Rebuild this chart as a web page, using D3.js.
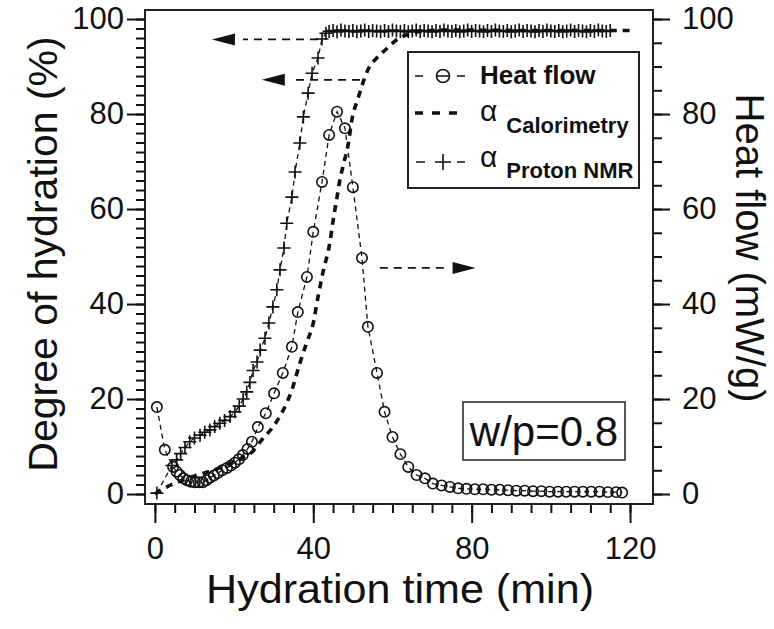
<!DOCTYPE html>
<html><head><meta charset="utf-8">
<script src="https://cdn.jsdelivr.net/npm/d3@7"></script>
<style>
body{margin:0;background:#fff}
svg{display:block}
text{font-family:"Liberation Sans",Arial,Helvetica,sans-serif;fill:#111}
</style>
</head><body>
<svg id="chart" width="774" height="629"></svg>
<script>
// ---------- data ----------
const xTickValues = [0, 40, 80, 120];
const yTickValues = [0, 20, 40, 60, 80, 100];

const heatTime = [0.5,2.5,4.6,5.5,6.3,7.2,8.1,9.1,10.1,11.1,12.1,13.0,13.9,14.9,15.9,17.0,18.2,19.2,20.2,21.2,22.2,23.4,24.5,26.0,28.0,30.1,32.3,34.6,36.1,38.4,40.0,42.2,44.0,46.0,48.0,50.0,52.3,53.8,56.1,58.0,60.0,62.0,64.0,66.1,68.2,70.2,72.4,74.5,76.6,78.7,80.8,82.9,85.0,87.1,89.2,91.3,93.4,95.5,97.6,99.7,101.8,103.9,106.0,108.1,110.2,112.3,114.4,116.5,118.0];
const heatFlow = [18.3,9.3,5.7,4.7,4.0,3.3,2.9,2.6,2.5,2.5,2.5,2.9,3.4,3.9,4.4,5.0,5.5,6.0,6.6,7.3,8.2,9.5,11.0,14.1,17.0,21.2,25.5,31.0,38.3,45.7,55.2,65.7,75.6,80.5,77.0,64.6,49.7,35.2,25.5,17.3,12.0,8.4,5.7,4.0,3.3,2.2,1.8,1.5,1.2,1.1,1.0,1.0,0.9,0.9,0.8,0.7,0.7,0.6,0.6,0.5,0.5,0.5,0.5,0.5,0.5,0.5,0.4,0.4,0.3];

const calTime = [0,2,4,6,8,10,12,14,16,18,20,22,24.5,27,29.6,32,34.6,36.6,38.3,40,41.2,42.4,44.2,45,46,46.7,47.8,48.8,49.8,51.3,52.6,53.8,56,58.6,61,64,68,75,90,110,121];
const calAlpha = [0,1.0,1.9,2.6,3.2,3.8,4.3,4.8,5.4,6.0,6.7,7.6,8.8,11.4,13.9,17.0,21.9,27.5,31.8,36.0,41.5,46.5,53.0,57.5,62.5,66.0,70.0,73.5,79.0,83.3,86.7,89.3,91.8,93.8,95.6,96.8,97.5,97.7,97.6,97.6,97.6];

const nmrTime = [0.5,4.3,5.5,6.5,7.6,8.8,10.0,11.4,12.6,13.9,15.1,16.4,17.6,19.0,20.2,21.3,22.3,23.2,24.0,24.8,25.8,26.6,27.8,28.8,29.8,30.8,31.6,32.6,33.3,34.6,35.4,36.6,37.5,38.7,39.7,41.2,42.2,43.2,
44,45,46,47,48,49,50,51,52,53,54,55,56,57,58,59,60,61,62,63,64,65,66,67,68,69,70,71,72,73,74,75,76,77,78,79,80,81,82,83,84,85,86,87,88,89,90,91,92,93,94,95,96,97,98,99,100,101,102,103,104,105,106,107,108,109,110,111,112,113,114,115,116,117,118,119,120,121,122,123];
const nmrAlpha = [0.2,6.0,7.2,8.5,9.8,11.0,11.8,12.4,13.0,13.5,14.2,14.9,15.5,16.3,17.3,18.5,20.0,21.5,23.5,26.0,27.8,30.3,32.8,36.0,39.4,43.0,47.2,51.8,57.0,62.5,67.8,73.9,79.4,84.4,88.6,91.8,95.8,97.0,
97.4,97.6,97.3,97.7,97.5,97.4,97.6,97.3,97.5,97.7,97.4,97.6,97.5,97.3,97.6,97.4,97.7,97.5,97.4,97.6,97.3,97.5,97.7,97.4,97.6,97.5,97.3,97.6,97.4,97.7,97.5,97.4,97.6,97.3,97.5,97.7,97.4,97.6,97.5,97.3,97.6,97.4,97.7,97.5,97.4,97.6,97.3,97.5,97.7,97.4,97.6,97.5,97.3,97.6,97.4,97.7,97.5,97.4,97.6,97.3,97.5,97.7,97.4,97.6,97.5,97.3,97.6,97.4,97.7,97.5,97.4,97.6];

// annotation arrows (data units): level, start, tip
const arrowLevel = [95.7, 87.2, 47.6];
const arrowStart = [41.2, 51.8, 56.8];
const arrowTip   = [14.4, 27.0, 81.0];

const legendLabels = ["Heat flow", "Calorimetry", "Proton NMR"];
const boxLabel = "w/p=0.8";

// ---------- layout ----------
const svg = d3.select("#chart");
const L = 145, R = 653, T = 10, B = 504;
const x = d3.scaleLinear().domain([-2.5, 125.8]).range([L, R]);
const yL = d3.scaleLinear().domain([-2.1, 101.9]).range([B, T]);
const yR = d3.scaleLinear().domain([-2.1, 101.9]).range([B, T]);
const ink = "#111";

// frame
svg.append("rect").attr("x", L).attr("y", T).attr("width", R - L).attr("height", B - T)
  .attr("fill", "none").attr("stroke", "#222").attr("stroke-width", 2);

function styleAxis(g, fs) {
  g.select(".domain").remove();
  g.selectAll("line").attr("stroke", ink).attr("stroke-width", 2);
  g.selectAll("text").attr("font-size", fs).attr("fill", ink)
    .style("font-family", '"Liberation Sans",Arial,sans-serif');
}

// bottom axis
const xMinor = d3.range(0, 121, 5);
svg.append("g").attr("transform", `translate(0,${B})`)
  .call(d3.axisBottom(x).tickValues(xMinor).tickSize(9).tickFormat(""))
  .call(g => styleAxis(g, 0));
svg.append("g").attr("transform", `translate(0,${B})`)
  .call(d3.axisBottom(x).tickValues(xTickValues).tickSize(19).tickPadding(14).tickFormat(d3.format("d")))
  .call(g => styleAxis(g, 31));

// left axis
svg.append("g").attr("transform", `translate(${L},0)`)
  .call(d3.axisLeft(yL).tickValues(d3.range(0, 101, 2)).tickSize(9).tickFormat(""))
  .call(g => styleAxis(g, 0));
svg.append("g").attr("transform", `translate(${L},0)`)
  .call(d3.axisLeft(yL).tickValues(yTickValues).tickSize(18).tickPadding(3).tickFormat(d3.format("d")))
  .call(g => styleAxis(g, 31));

// right axis
svg.append("g").attr("transform", `translate(${R},0)`)
  .call(d3.axisRight(yR).tickValues(d3.range(0, 101, 5)).tickSize(9).tickFormat(""))
  .call(g => styleAxis(g, 0));
svg.append("g").attr("transform", `translate(${R},0)`)
  .call(d3.axisRight(yR).tickValues(yTickValues).tickSize(17).tickPadding(12).tickFormat(d3.format("d")))
  .call(g => styleAxis(g, 31));

// axis titles
svg.append("text").attr("x", 400).attr("y", 603).attr("text-anchor", "middle")
  .attr("font-size", 41).attr("textLength", 388).attr("lengthAdjust", "spacingAndGlyphs")
  .text("Hydration time (min)");
svg.append("text").attr("transform", "translate(57,254) rotate(-90)").attr("text-anchor", "middle")
  .attr("font-size", 41).text("Degree of hydration (%)");
svg.append("text").attr("transform", "translate(736,248) rotate(90)").attr("text-anchor", "middle")
  .attr("font-size", 40).text("Heat flow (mW/g)");

// ---------- series ----------
const calData = calTime.map((t, i) => [t, calAlpha[i]]);
const heatData = heatTime.map((t, i) => [t, heatFlow[i]]);
const nmrData = nmrTime.map((t, i) => [t, nmrAlpha[i]]);

const lineL = d3.line().x(d => x(d[0])).y(d => yL(d[1])).curve(d3.curveMonotoneX);
const lineR = d3.line().x(d => x(d[0])).y(d => yR(d[1]));
const lineN = d3.line().x(d => x(d[0])).y(d => yL(d[1]));

svg.append("path").datum(calData).attr("d", lineL)
  .attr("fill", "none").attr("stroke", ink).attr("stroke-width", 3.6).attr("stroke-dasharray", "7,6");

svg.append("path").datum(heatData).attr("d", lineR)
  .attr("fill", "none").attr("stroke", ink).attr("stroke-width", 1.3).attr("stroke-dasharray", "5,4");
svg.append("g").selectAll("circle").data(heatData).join("circle")
  .attr("cx", d => x(d[0])).attr("cy", d => yR(d[1])).attr("r", 5.2)
  .attr("fill", "none").attr("stroke", ink).attr("stroke-width", 1.6);

svg.append("path").datum(nmrData).attr("d", lineN)
  .attr("fill", "none").attr("stroke", ink).attr("stroke-width", 1.3).attr("stroke-dasharray", "5,4");
const pl = 6.5;
svg.append("g").selectAll("path").data(nmrData).join("path")
  .attr("d", d => { const cx = x(d[0]), cy = yL(d[1]);
    return `M${cx - pl},${cy}H${cx + pl}M${cx},${cy - pl}V${cy + pl}`; })
  .attr("stroke", ink).attr("stroke-width", 1.6).attr("fill", "none");

// ---------- arrows ----------
arrowLevel.forEach((lv, i) => {
  const yy = yL(lv), xs = x(arrowStart[i]), xt = x(arrowTip[i]);
  const dir = xt < xs ? -1 : 1;
  const headLen = 23, headH = 6;
  const base = xt - dir * headLen;
  svg.append("line").attr("x1", xs).attr("x2", base - dir * 8).attr("y1", yy).attr("y2", yy)
    .attr("stroke", ink).attr("stroke-width", 1.8).attr("stroke-dasharray", "8,6");
  svg.append("path").attr("d", `M${xt},${yy}L${base},${yy - headH}L${base},${yy + headH}Z`).attr("fill", ink);
});

// ---------- legend ----------
const lg = svg.append("g");
lg.append("rect").attr("x", 408).attr("y", 52).attr("width", 231).attr("height", 136)
  .attr("fill", "#fff").attr("stroke", "#222").attr("stroke-width", 2);
// row 1: heat flow  "-⊖-"
lg.append("path").attr("d", "M415,76H423M436,76H450M457,76H465")
  .attr("stroke", ink).attr("stroke-width", 1.6);
lg.append("circle").attr("cx", 443).attr("cy", 76).attr("r", 6.5).attr("fill", "none").attr("stroke", ink).attr("stroke-width", 1.6);
lg.append("text").attr("x", 480).attr("y", 84).attr("font-size", 26).attr("font-weight", "bold").text(legendLabels[0]);
// row 2: calorimetry
lg.append("line").attr("x1", 415).attr("x2", 465).attr("y1", 113).attr("y2", 113)
  .attr("stroke", ink).attr("stroke-width", 3.6).attr("stroke-dasharray", "8,9");
const t2 = lg.append("text").attr("x", 480).attr("y", 121);
t2.append("tspan").attr("font-size", 30).text("α");
t2.append("tspan").attr("dx", 9).attr("dy", 12).attr("font-size", 22).attr("font-weight", "bold").text(legendLabels[1]);
// row 3: NMR  "-+-"
lg.append("path").attr("d", "M416,162H425M435,162H451M443,154V170M457,162H465")
  .attr("stroke", ink).attr("stroke-width", 1.6);
const t3 = lg.append("text").attr("x", 480).attr("y", 167);
t3.append("tspan").attr("font-size", 30).text("α");
t3.append("tspan").attr("dx", 9).attr("dy", 11).attr("font-size", 22).attr("font-weight", "bold").text(legendLabels[2]);

// ---------- w/p box ----------
svg.append("rect").attr("x", 463).attr("y", 402).attr("width", 162).attr("height", 58)
  .attr("fill", "#fff").attr("stroke", "#222").attr("stroke-width", 1.5);
svg.append("text").attr("x", 544).attr("y", 446).attr("text-anchor", "middle").attr("font-size", 42).text(boxLabel);
</script>
</body></html>
